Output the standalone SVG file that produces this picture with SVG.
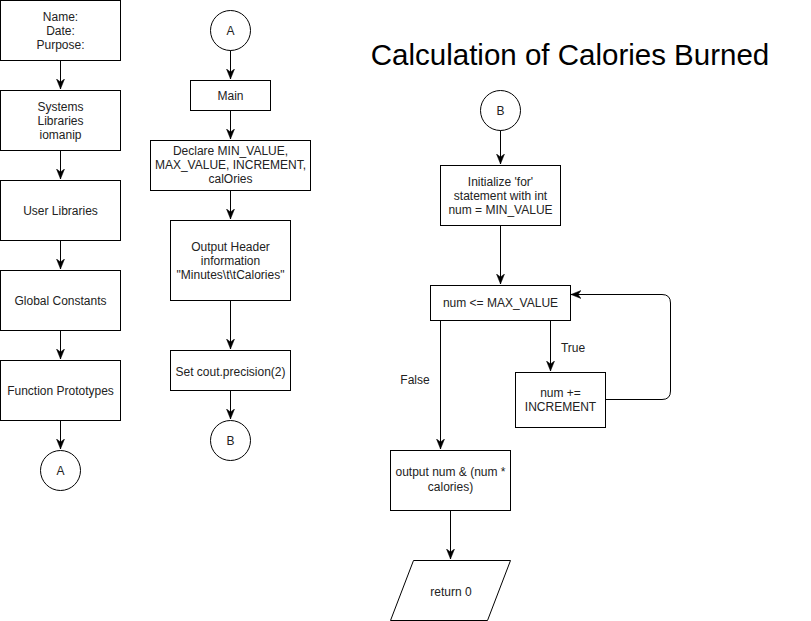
<svg xmlns="http://www.w3.org/2000/svg" width="811" height="621" viewBox="0 0 811 621">
<style>
.box{fill:#fff;stroke:#000;stroke-width:1}
.t{font-family:"Liberation Sans",Arial,sans-serif;font-size:12px;fill:#222;text-anchor:middle}
.title{font-family:"Liberation Sans",Arial,sans-serif;font-size:29.5px;fill:#000;text-anchor:middle}
.c{fill:none;stroke:#000;stroke-width:1}
</style>
<defs>
<marker id="arr" markerUnits="userSpaceOnUse" markerWidth="10" markerHeight="10" viewBox="0 0 10 10" refX="10" refY="5" orient="auto">
<path d="M0,1 L10,5 L0,9 L3,5 z" fill="#000" stroke="#000" stroke-width="0.5"/>
</marker>
</defs>
<rect width="811" height="621" fill="#fff"/>
<g id="connectors">
<path class="c" d="M60.5,60 V89" marker-end="url(#arr)"/>
<path class="c" d="M60.5,150 V179" marker-end="url(#arr)"/>
<path class="c" d="M60.5,240 V269" marker-end="url(#arr)"/>
<path class="c" d="M60.5,330 V359" marker-end="url(#arr)"/>
<path class="c" d="M60.5,420 V449" marker-end="url(#arr)"/>
<path class="c" d="M230.5,50 V79" marker-end="url(#arr)"/>
<path class="c" d="M230.5,110 V139" marker-end="url(#arr)"/>
<path class="c" d="M230.5,190 V219" marker-end="url(#arr)"/>
<path class="c" d="M230.5,300 V349" marker-end="url(#arr)"/>
<path class="c" d="M230.5,390 V419" marker-end="url(#arr)"/>
<path class="c" d="M500.5,130 V164" marker-end="url(#arr)"/>
<path class="c" d="M500.5,225 V284" marker-end="url(#arr)"/>
<path class="c" d="M550.5,320 V371" marker-end="url(#arr)"/>
<path class="c" d="M440.5,320 V449" marker-end="url(#arr)"/>
<path class="c" d="M450.5,510 V559" marker-end="url(#arr)"/>
<path class="c" d="M605,399.5 H662 Q670.5,399.5 670.5,391 V303 Q670.5,294.5 662,294.5 H571" marker-end="url(#arr)"/>
<text class="t" x="573" y="352">True</text>
<text class="t" x="415" y="384">False</text>
</g>
<g id="title"><text class="title" x="570" y="65">Calculation of Calories Burned</text></g>
<g id="n1"><rect class="box" x="0.5" y="0.5" width="120" height="60"/>
<text class="t" x="60.5" y="21">Name:</text><text class="t" x="60.5" y="35">Date:</text><text class="t" x="60.5" y="49">Purpose:</text></g>
<g id="n2"><rect class="box" x="0.5" y="90.5" width="120" height="60"/>
<text class="t" x="60.5" y="111">Systems</text><text class="t" x="60.5" y="125">Libraries</text><text class="t" x="60.5" y="139">iomanip</text></g>
<g id="n3"><rect class="box" x="0.5" y="180.5" width="120" height="60"/>
<text class="t" x="60.5" y="215">User Libraries</text></g>
<g id="n4"><rect class="box" x="0.5" y="270.5" width="120" height="60"/>
<text class="t" x="60.5" y="305">Global Constants</text></g>
<g id="n5"><rect class="box" x="0.5" y="360.5" width="120" height="60"/>
<text class="t" x="60.5" y="395">Function Prototypes</text></g>
<g id="n6"><circle class="box" cx="60.5" cy="470.5" r="20"/>
<text class="t" x="60.5" y="475">A</text></g>
<g id="m1"><circle class="box" cx="230.5" cy="30.5" r="20"/>
<text class="t" x="230.5" y="35">A</text></g>
<g id="m2"><rect class="box" x="190.5" y="80.5" width="80" height="30"/>
<text class="t" x="230.5" y="100">Main</text></g>
<g id="m3"><rect class="box" x="150.5" y="140.5" width="160" height="50"/>
<text class="t" x="230.5" y="155">Declare MIN_VALUE,</text><text class="t" x="230.5" y="169">MAX_VALUE, INCREMENT,</text><text class="t" x="230.5" y="183">calOries</text></g>
<g id="m4"><rect class="box" x="170.5" y="220.5" width="120" height="80"/>
<text class="t" x="230.5" y="251">Output Header</text><text class="t" x="230.5" y="265">information</text><text class="t" x="230.5" y="279">"Minutes\t\tCalories"</text></g>
<g id="m5"><rect class="box" x="170.5" y="350.5" width="120" height="40"/>
<text class="t" x="230.5" y="376">Set cout.precision(2)</text></g>
<g id="m6"><circle class="box" cx="230.5" cy="440.5" r="20"/>
<text class="t" x="230.5" y="445">B</text></g>
<g id="r1"><circle class="box" cx="500.5" cy="110.5" r="20"/>
<text class="t" x="500.5" y="115">B</text></g>
<g id="r2"><rect class="box" x="440.5" y="165.5" width="120" height="60"/>
<text class="t" x="500.5" y="186">Initialize 'for'</text><text class="t" x="500.5" y="200">statement with int</text><text class="t" x="500.5" y="214">num = MIN_VALUE</text></g>
<g id="r3"><rect class="box" x="430.5" y="285.5" width="140" height="35"/>
<text class="t" x="500.5" y="307">num &lt;= MAX_VALUE</text></g>
<g id="r4"><rect class="box" x="515.5" y="372.5" width="90" height="55"/>
<text class="t" x="560.5" y="397">num +=</text><text class="t" x="560.5" y="411">INCREMENT</text></g>
<g id="r5"><rect class="box" x="390.5" y="450.5" width="120" height="60"/>
<text class="t" x="450.5" y="476">output num &amp; (num *</text><text class="t" x="450.5" y="491">calories)</text></g>
<g id="r6"><polygon class="box" points="413.5,560.5 510.5,560.5 487.5,620.5 390.5,620.5"/>
<text class="t" x="451" y="596">return 0</text></g>
</svg>
